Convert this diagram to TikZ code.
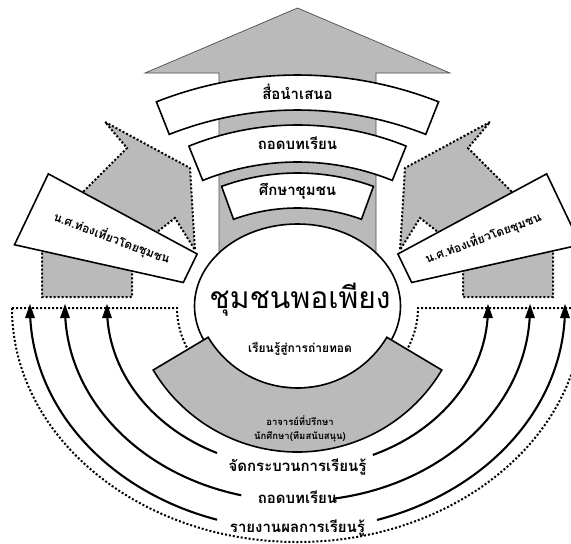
\documentclass[tikz,border=0pt]{standalone}
\usepackage{fontspec}
\newfontfamily\thaifont[Script=Thai]{Loma}
\usepackage{tikz}

\begin{document}
\begin{tikzpicture}[x=1pt,y=1pt,
  shade/.style={fill=black!27},
  boxline/.style={line width=1.6pt},
  solidline/.style={line width=2.1pt},
  dotline/.style={line width=2pt,dash pattern=on 2pt off 2pt},
  thaitext/.style={font=\thaifont\bfseries}]
\tikzstyle{every node}+=[inner sep=0pt]
\useasboundingbox (0,0) rectangle (571,-544);
% top arrow and its shaft
\filldraw [shade, draw=black!70, line width=0.7pt] (297.5,-8) -- (450,-73) -- (376,-73) -- (376,-262) -- (219,-262) -- (219,-73) -- (145,-73) -- cycle;
% side arrows
\filldraw [shade, dotline] (105,-122) -- (190,-168) -- (195,-250) -- (175,-218) -- (157,-232) -- (132,-271) -- (132,-297) -- (42,-297) -- (42,-251) -- (83,-192) -- (127,-148) -- cycle;
\filldraw [shade, dotline] (490,-122) -- (405,-168) -- (400,-250) -- (420,-218) -- (438,-232) -- (463,-271) -- (463,-297) -- (553,-297) -- (553,-251) -- (512,-192) -- (468,-148) -- cycle;
% curved boxes on the shaft
\filldraw [fill=white, boxline, shift={(297.5,-460)}] (68.5:385) arc (68.5:111.5:385) -- (111.5:350) arc (111.5:68.5:350) -- cycle;
\filldraw [fill=white, boxline, shift={(297.5,-415)}] (68:290) arc (68:112:290) -- (112:253) arc (112:68:253) -- cycle;
\filldraw [fill=white, boxline, shift={(297.5,-395)}] (70:222) arc (70:110:222) -- (110:187) arc (110:70:187) -- cycle;
% side boxes
\filldraw [fill=white, boxline, shift={(297.5,-308)}] (151.7:283) -- (167.4:290) -- (167.4:117) -- (151.7:114) -- cycle;
\filldraw [fill=white, boxline, shift={(297.5,-308)}] (28.3:283) -- (12.6:290) -- (12.6:117) -- (28.3:114) -- cycle;
% dotted frame
\draw [dotline] (12,-308) arc (180:360:285.5 and 234);
\draw [dotline] (12,-308) -- (177,-308) arc (180:206:120.5 and 100);
\draw [dotline] (583,-308) -- (418,-308) arc (0:-26:120.5 and 100);
% feedback arcs
\draw [solidline] (107,-308) arc (180:245:190.5 and 160);
\draw [solidline] (65,-308) arc (180:256:232.5 and 193);
\draw [solidline] (30,-308) arc (180:252.5:267.5 and 222);
\draw [solidline] (488,-308) arc (0:-66.7:190.5 and 160);
\draw [solidline] (530,-308) arc (0:-81.2:232.5 and 193);
\draw [solidline] (565,-308) arc (0:-72.7:267.5 and 222);
\fill [black] (30,-304) -- (25,-318) -- (35,-318);
\fill [black] (65,-304) -- (60,-318) -- (70,-318);
\fill [black] (107,-304) -- (102,-318) -- (112,-318);
\fill [black] (488,-304) -- (483,-318) -- (493,-318);
\fill [black] (530,-304) -- (525,-318) -- (535,-318);
\fill [black] (565,-304) -- (560,-318) -- (570,-318);
% centre
\filldraw [fill=white, boxline] (297.5,-306) ellipse (103 and 82);
\filldraw [shade, boxline, shift={(297.5,-284)}] (-149.2:104) arc (-149.2:-30.8:104) -- (-30.8:168) arc (-30.8:-149.2:168) -- cycle;
% texts
\node [thaitext, font=\thaifont\bfseries\fontsize{15}{15}\selectfont] (present) at (297.5,-92) {สื่อนำเสนอ};
\node [thaitext, font=\thaifont\bfseries\fontsize{15}{15}\selectfont] (lesson) at (297.5,-143) {ถอดบทเรียน};
\node [thaitext, font=\thaifont\bfseries\fontsize{15}{15}\selectfont] (study) at (297.5,-191) {ศึกษาชุมชน};
\node [thaitext, font=\thaifont\fontsize{30}{30}\selectfont] (village) at (300,-300) {ชุมชนพอเพียง};
\node [thaitext, font=\thaifont\bfseries\fontsize{12}{12}\selectfont] (transfer) at (300,-349) {เรียนรู้สู่การถ่ายทอด};
\node [thaitext, font=\thaifont\bfseries\fontsize{9.5}{9.5}\selectfont] (advisor) at (300,-421) {อาจารย์ที่ปรึกษา};
\node [thaitext, font=\thaifont\bfseries\fontsize{9.5}{9.5}\selectfont] (support) at (300,-437) {นักศึกษา(ทีมสนับสนุน)};
\node [thaitext, font=\thaifont\bfseries\fontsize{12}{12}\selectfont, rotate=-20.5] (tourleft) at (112,-238) {น.ศ.ท่องเที่ยวโดยชุมชน};
\node [thaitext, font=\thaifont\bfseries\fontsize{12}{12}\selectfont, rotate=20.5] (tourright) at (483,-238) {น.ศ.ท่องเที่ยวโดยชุมชน};
\node [thaitext, font=\thaifont\bfseries\fontsize{15}{15}\selectfont] (process) at (297.5,-467) {จัดกระบวนการเรียนรู้};
\node [thaitext, font=\thaifont\bfseries\fontsize{15}{15}\selectfont] (lesson2) at (297.5,-497) {ถอดบทเรียน};
\node [thaitext, font=\thaifont\bfseries\fontsize{15}{15}\selectfont] (report) at (297.5,-528) {รายงานผลการเรียนรู้};
\end{tikzpicture}
\end{document}
